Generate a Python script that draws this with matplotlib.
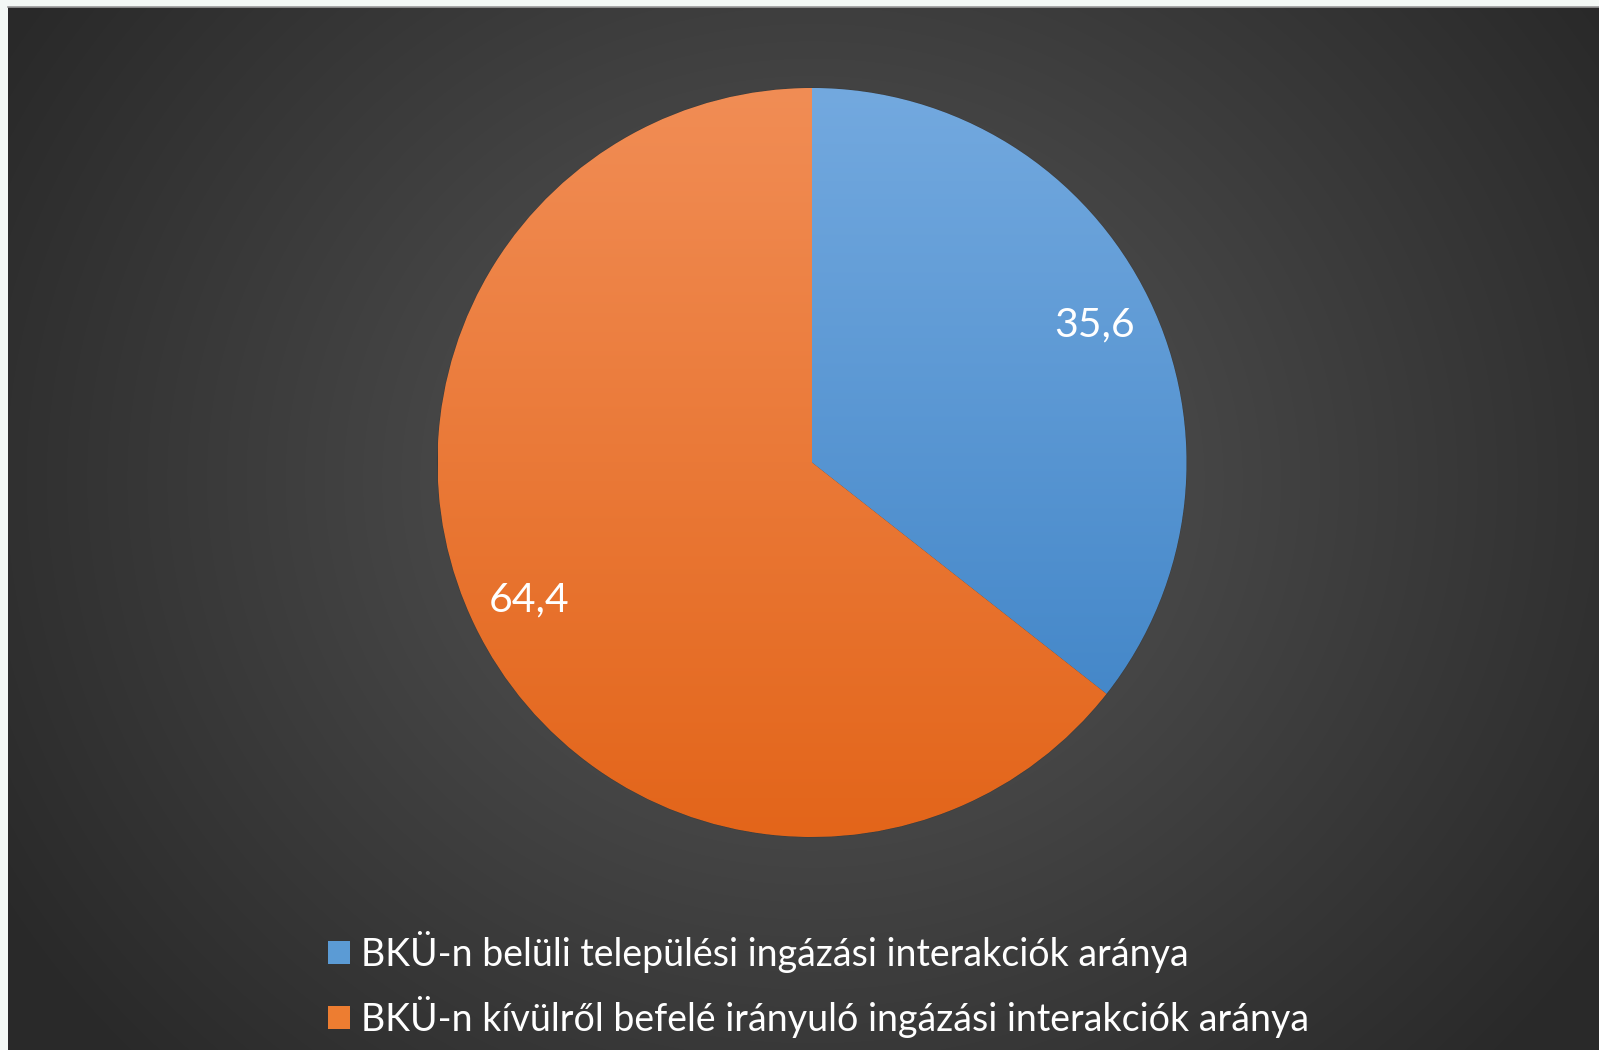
import numpy as np
import matplotlib
matplotlib.use("Agg")
import matplotlib.pyplot as plt
from matplotlib.colors import LinearSegmentedColormap

plt.rcParams['font.family'] = ['Lato', 'DejaVu Sans']

# ---- data ----
categories = ["BKÜ-n belüli települési ingázási interakciók aránya",
              "BKÜ-n kívülről befelé irányuló ingázási interakciók aránya"]
values = [35.6, 64.4]
value_labels = ["35,6", "64,4"]
top_colors = ["#73a9df", "#f18d55"]
bottom_colors = ["#3a80c4", "#e3651a"]
legend_colors = ["#5b9bd5", "#ed7d31"]

W, H = 1599, 1050
fig = plt.figure(figsize=(W / 100, H / 100), dpi=100, facecolor="#f3f8f5")

# ---- dark radial-gradient panel ----
px0, py0 = 8, 7
bg = fig.add_axes([px0 / W, 0, (W - px0) / W, (H - py0) / H])
bg.set_axis_off()
yy, xx = np.mgrid[py0:H, px0:W]
cx, cy = 812, 480
r = np.sqrt(((xx - cx) / 1.0) ** 2 + ((yy - cy) / 0.9) ** 2)
t = np.clip(r / 950.0, 0, 1) ** 0.9
v = (0x5c - (0x5c - 0x29) * t) / 255.0
img = np.dstack([v, v, v])
bg.imshow(img, extent=[0, 1, 0, 1], aspect="auto", origin="upper")
bg.set_xlim(0, 1)
bg.set_ylim(0, 1)
bg.plot([0, 1], [1, 1], color="#9a9a9a", lw=1.2, transform=bg.transAxes, clip_on=False)

# ---- pie ----
pcx, pcy, pr = 812, H - 462.5, 374.5
s = pr * 1.25
ax = fig.add_axes([(pcx - s) / W, (pcy - s) / H, 2 * s / W, 2 * s / H])
ax.set_facecolor("none")
wedges, texts = ax.pie(values, labels=value_labels, startangle=90, counterclock=False,
                       colors=legend_colors, labeldistance=0.84,
                       wedgeprops=dict(edgecolor="#3c3c3c", linewidth=0.8),
                       textprops=dict(color="white", fontsize=29.5))
for t_ in texts:
    t_.set_ha("center")
    t_.set_va("center")

for w, ctop, cbot in zip(wedges, top_colors, bottom_colors):
    cmap = LinearSegmentedColormap.from_list("g", [ctop, cbot])
    grad = np.linspace(0, 1, 256).reshape(-1, 1)
    im = ax.imshow(grad, cmap=cmap, extent=[-1, 1, -1, 1], origin="upper",
                   aspect="auto", zorder=w.get_zorder() + 0.1)
    im.set_clip_path(w)
for t_ in texts:
    t_.set_zorder(10)
ax.set_xlim(-1.25, 1.25)
ax.set_ylim(-1.25, 1.25)
ax.set_aspect("equal")

# ---- legend ----
leg = fig.legend(wedges, categories, loc="upper left",
                 bbox_to_anchor=(328 / W, 1 - 931 / H),
                 frameon=False, fontsize=27, labelcolor="white",
                 handlelength=0.58, handleheight=0.58, handletextpad=0.3,
                 labelspacing=0.6, borderaxespad=0, borderpad=0)
for h, c in zip(leg.legend_handles, legend_colors):
    h.set_facecolor(c)
    h.set_edgecolor("none")

fig.savefig("out.png", dpi=100, facecolor=fig.get_facecolor())
